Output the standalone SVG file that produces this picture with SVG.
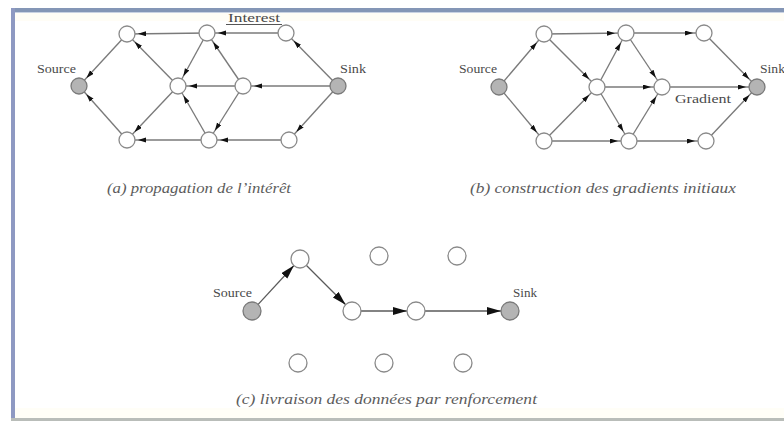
<svg xmlns="http://www.w3.org/2000/svg" width="784" height="421" viewBox="0 0 784 421">
  <defs>
    <style>
      .edge { stroke: #7a7a7a; stroke-width: 1.35; fill: none; }
      .edge-s { marker-end: url(#tip-s); }
      .edge-l { stroke: #5a5a5a; stroke-width: 1.3; marker-end: url(#tip-l); }
      .node { fill: #ffffff; stroke: #8a8a8a; stroke-width: 1.3; }
      .end { fill: #b4b4b4; stroke: #7a7a7a; stroke-width: 1.3; }
      .lbl { font-family: "Liberation Serif", "Times New Roman", serif; font-size: 12.5px; fill: #4a4a4a; }
      .cap { font-family: "Liberation Serif", "Times New Roman", serif; font-style: italic; font-size: 14px; fill: #5c5c5c; }
    </style>
    <!-- small arrowhead: tip stops a few pixels short of the target circle (r=8) -->
    <marker id="tip-s" markerUnits="userSpaceOnUse" markerWidth="9" markerHeight="6" refX="19" refY="2.5" orient="auto">
      <path d="M0,0 L8,2.5 L0,5 Z" fill="#111"/>
    </marker>
    <!-- large arrowhead: tip touches the target circle (r=9) -->
    <marker id="tip-l" markerUnits="userSpaceOnUse" markerWidth="16" markerHeight="10" refX="23" refY="4" orient="auto">
      <path d="M0,0 L14,4 L0,8 Z" fill="#111"/>
    </marker>
  </defs>

  <!-- page and frame -->
  <rect x="0" y="0" width="784" height="421" fill="#ffffff"/>
  <rect x="15" y="12" width="769" height="9" fill="#fffdf6"/>
  <rect x="15" y="408" width="769" height="10" fill="#fffef7"/>
  <rect x="11" y="8" width="773" height="4" fill="#8496b6"/>
  <rect x="11" y="12" width="773" height="1" fill="#c9d2e2"/>
  <rect x="11" y="8" width="4" height="413" fill="#8e99c2"/>
  <rect x="11" y="418" width="773" height="3" fill="#b9bdb9"/>

  <!-- connectors -->
  <g id="connectors">
    <!-- (a) interest propagation: sink towards source -->
    <line class="edge edge-s" x1="338" y1="86" x2="286" y2="33"/>
    <line class="edge edge-s" x1="338" y1="86" x2="243" y2="86"/>
    <line class="edge edge-s" x1="338" y1="86" x2="289" y2="140"/>
    <line class="edge edge-s" x1="286" y1="33" x2="207" y2="33"/>
    <line class="edge edge-s" x1="207" y1="33" x2="127" y2="34"/>
    <line class="edge edge-s" x1="207" y1="33" x2="178" y2="86"/>
    <line class="edge edge-s" x1="243" y1="86" x2="207" y2="33"/>
    <line class="edge edge-s" x1="243" y1="86" x2="178" y2="86"/>
    <line class="edge edge-s" x1="243" y1="86" x2="209" y2="140"/>
    <line class="edge edge-s" x1="178" y1="86" x2="127" y2="34"/>
    <line class="edge edge-s" x1="178" y1="86" x2="127" y2="140"/>
    <line class="edge edge-s" x1="209" y1="140" x2="178" y2="86"/>
    <line class="edge edge-s" x1="289" y1="140" x2="209" y2="140"/>
    <line class="edge edge-s" x1="209" y1="140" x2="127" y2="140"/>
    <line class="edge edge-s" x1="127" y1="34" x2="79" y2="86"/>
    <line class="edge edge-s" x1="127" y1="140" x2="79" y2="86"/>
    <line x1="226" y1="24.5" x2="282" y2="24.5" stroke="#555" stroke-width="1"/>

    <!-- (b) initial gradients: source towards sink -->
    <line class="edge edge-s" x1="499" y1="87" x2="544" y2="34"/>
    <line class="edge edge-s" x1="499" y1="87" x2="544" y2="141"/>
    <line class="edge edge-s" x1="544" y1="34" x2="626" y2="33"/>
    <line class="edge edge-s" x1="626" y1="33" x2="704" y2="33"/>
    <line class="edge edge-s" x1="544" y1="34" x2="597" y2="87"/>
    <line class="edge edge-s" x1="544" y1="141" x2="597" y2="87"/>
    <line class="edge edge-s" x1="597" y1="87" x2="626" y2="33"/>
    <line class="edge edge-s" x1="597" y1="87" x2="662" y2="87"/>
    <line class="edge edge-s" x1="597" y1="87" x2="629" y2="141"/>
    <line class="edge edge-s" x1="626" y1="33" x2="662" y2="87"/>
    <line class="edge edge-s" x1="629" y1="141" x2="662" y2="87"/>
    <line class="edge edge-s" x1="662" y1="87" x2="757" y2="87"/>
    <line class="edge edge-s" x1="704" y1="33" x2="757" y2="87"/>
    <line class="edge edge-s" x1="706" y1="141" x2="757" y2="87"/>
    <line class="edge edge-s" x1="544" y1="141" x2="629" y2="141"/>
    <line class="edge edge-s" x1="629" y1="141" x2="706" y2="141"/>

    <!-- (c) reinforced delivery path -->
    <line class="edge edge-l" x1="252" y1="311" x2="300" y2="259"/>
    <line class="edge edge-l" x1="300" y1="259" x2="352" y2="311"/>
    <line class="edge edge-l" x1="352" y1="311" x2="416" y2="311"/>
    <line class="edge edge-l" x1="416" y1="311" x2="510" y2="311"/>
  </g>

  <!-- (a) nodes -->
  <g id="a-source"><circle class="end" cx="79" cy="86" r="8"/><text class="lbl" x="37" y="73" textLength="39" lengthAdjust="spacingAndGlyphs">Source</text></g>
  <g id="a-top1"><circle class="node" cx="127" cy="34" r="8"/></g>
  <g id="a-top2"><circle class="node" cx="207" cy="33" r="8"/></g>
  <g id="a-top3"><circle class="node" cx="286" cy="33" r="8"/></g>
  <g id="a-center"><circle class="node" cx="178" cy="86" r="8"/></g>
  <g id="a-mid"><circle class="node" cx="243" cy="86" r="8"/></g>
  <g id="a-sink"><circle class="end" cx="338" cy="86" r="8"/><text class="lbl" x="340" y="73" textLength="26" lengthAdjust="spacingAndGlyphs">Sink</text></g>
  <g id="a-bot1"><circle class="node" cx="127" cy="140" r="8"/></g>
  <g id="a-bot2"><circle class="node" cx="209" cy="140" r="8"/></g>
  <g id="a-bot3"><circle class="node" cx="289" cy="140" r="8"/></g>
  <g id="a-interest"><text class="lbl" x="228" y="22" textLength="52" lengthAdjust="spacingAndGlyphs">Interest</text></g>
  <text class="cap" x="107" y="193" textLength="184" lengthAdjust="spacingAndGlyphs">(a) propagation de l’intérêt</text>

  <!-- (b) nodes -->
  <g id="b-source"><circle class="end" cx="499" cy="87" r="8"/><text class="lbl" x="459" y="73" textLength="38" lengthAdjust="spacingAndGlyphs">Source</text></g>
  <g id="b-top1"><circle class="node" cx="544" cy="34" r="8"/></g>
  <g id="b-top2"><circle class="node" cx="626" cy="33" r="8"/></g>
  <g id="b-top3"><circle class="node" cx="704" cy="33" r="8"/></g>
  <g id="b-center"><circle class="node" cx="597" cy="87" r="8"/></g>
  <g id="b-mid"><circle class="node" cx="662" cy="87" r="8"/></g>
  <g id="b-sink"><circle class="end" cx="757" cy="87" r="8"/><text class="lbl" x="760" y="73" textLength="25" lengthAdjust="spacingAndGlyphs">Sink</text></g>
  <g id="b-bot1"><circle class="node" cx="544" cy="141" r="8"/></g>
  <g id="b-bot2"><circle class="node" cx="629" cy="141" r="8"/></g>
  <g id="b-bot3"><circle class="node" cx="706" cy="141" r="8"/></g>
  <g id="b-gradient"><text class="lbl" x="675" y="103" textLength="56" lengthAdjust="spacingAndGlyphs">Gradient</text></g>
  <text class="cap" x="470" y="193" textLength="266" lengthAdjust="spacingAndGlyphs">(b) construction des gradients initiaux</text>

  <!-- (c) nodes -->
  <g id="c-source"><circle class="end" cx="252" cy="311" r="9"/><text class="lbl" x="213" y="297" textLength="39" lengthAdjust="spacingAndGlyphs">Source</text></g>
  <g id="c-top1"><circle class="node" cx="300" cy="259" r="9"/></g>
  <g id="c-top2"><circle class="node" cx="379" cy="256" r="9"/></g>
  <g id="c-top3"><circle class="node" cx="457" cy="256" r="9"/></g>
  <g id="c-mid1"><circle class="node" cx="352" cy="311" r="9"/></g>
  <g id="c-mid2"><circle class="node" cx="416" cy="311" r="9"/></g>
  <g id="c-sink"><circle class="end" cx="510" cy="311" r="9"/><text class="lbl" x="513" y="297" textLength="24" lengthAdjust="spacingAndGlyphs">Sink</text></g>
  <g id="c-bot1"><circle class="node" cx="298" cy="363" r="9"/></g>
  <g id="c-bot2"><circle class="node" cx="384" cy="363" r="9"/></g>
  <g id="c-bot3"><circle class="node" cx="463" cy="363" r="9"/></g>
  <text class="cap" x="236" y="404" textLength="301" lengthAdjust="spacingAndGlyphs">(c) livraison des données par renforcement</text>
</svg>
